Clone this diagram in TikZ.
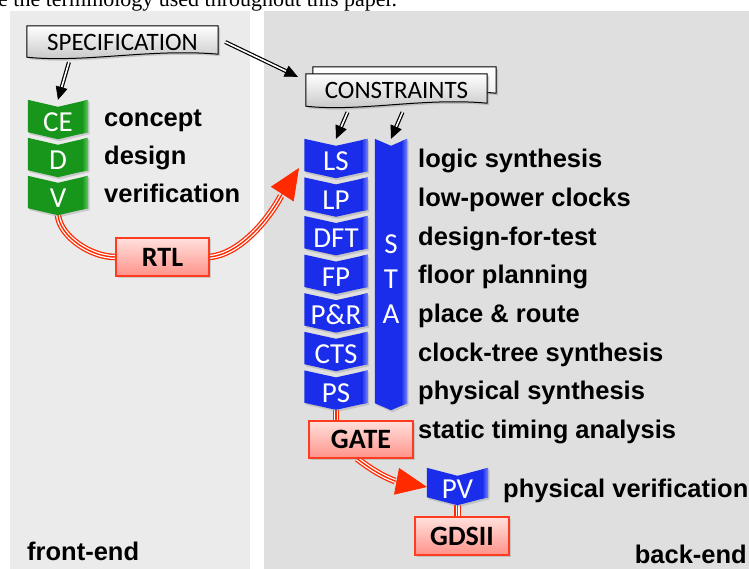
\documentclass[tikz,border=0pt]{standalone}
\usepackage{fontspec}
\setmainfont{Liberation Sans}
\newfontfamily\calibfont{Carlito}
\newfontfamily\bodyserif{Liberation Serif}
\usetikzlibrary{arrows.meta,calc,shadows}

\pgfdeclarelayer{panels}
\pgfdeclarelayer{pipes}
\pgfdeclarelayer{shapes}
\pgfsetlayers{panels,pipes,shapes,main}

\definecolor{panelL}{HTML}{EBEBEB}
\definecolor{panelR}{HTML}{DFDFDF}
\definecolor{chgreen}{HTML}{17961B}
\definecolor{chgreenlt}{HTML}{62CF5E}
\definecolor{chblue}{HTML}{1A2DEB}
\definecolor{chbluelt}{HTML}{7383FF}
\definecolor{flowred}{HTML}{FF2A00}
\definecolor{boxred}{HTML}{FF3B20}
\definecolor{pinktop}{HTML}{FFE0DC}
\definecolor{pinkbot}{HTML}{FF938A}

% chevron body: node, notch depth, base colour, edge colour
\newcommand\chevronshape[4]{%
  \begin{pgfonlayer}{shapes}
    \fill[#3, drop shadow={shadow xshift=1.5pt,shadow yshift=-2pt,opacity=.3}]
      (#1.north west) -- ([yshift=-#2]#1.north) -- (#1.north east)
      -- ([yshift=#2]#1.south east) -- (#1.south) -- ([yshift=#2]#1.south west) -- cycle;
    \begin{scope}
      \clip (#1.north west) -- ([yshift=-#2]#1.north) -- (#1.north east)
        -- ([yshift=#2]#1.south east) -- (#1.south) -- ([yshift=#2]#1.south west) -- cycle;
      \shade[left color=#3, right color=#4] ([xshift=-6pt]#1.north east) rectangle (#1.south east);
    \end{scope}
  \end{pgfonlayer}}

% paper sheet with a wavy lower edge behind a node
\newcommand\docshape[2]{%
  \begin{pgfonlayer}{shapes}
    \path[#2] (#1.north west) -- (#1.north east) -- ([yshift=4pt]#1.south east)
      .. controls ($(#1.south west)!0.65!(#1.south east)+(0pt,10pt)$)
         and ($(#1.south west)!0.3!(#1.south east)+(0pt,-5pt)$) .. ([yshift=1pt]#1.south west) -- cycle;
  \end{pgfonlayer}}

% black double-line arrow between two named points
\newcommand\dblarrow[2]{%
  \draw[preaction={draw=black,line width=4pt}, draw=white, line width=1.6pt]
    (#1) -- ($(#2)!11pt!(#1)$);
  \draw[black, line width=.6pt, -{Triangle[length=13pt,width=12pt]}]
    ($(#2)!12pt!(#1)$) -- (#2);}

\begin{document}
\begin{tikzpicture}[x=1pt, y=-1pt,
  lbl/.style={font=\bfseries\fontsize{25.5}{30}\selectfont, inner sep=0pt},
  doclbl/.style={font=\calibfont\fontsize{25}{30}\selectfont, inner sep=0pt},
  docfront/.style={top color=white, bottom color=black!24, draw=black, line width=1pt,
    drop shadow={shadow xshift=2pt,shadow yshift=-2pt,opacity=.35}},
  docback/.style={top color=white, bottom color=black!8, draw=black, line width=1pt,
    drop shadow={shadow xshift=2pt,shadow yshift=-2pt,opacity=.35}},
  chevtxt/.style={font=\calibfont\fontsize{29}{33}\selectfont, text=white, inner sep=0pt,
    text height=24pt, text depth=0pt},
  pinkbox/.style={rectangle, top color=pinktop, bottom color=pinkbot, draw=boxred,
    line width=1.2pt, inner sep=0pt, font=\calibfont\bfseries\fontsize{28}{32}\selectfont,
    drop shadow={shadow xshift=1.5pt,shadow yshift=-1.5pt,opacity=.3}},
  pipe/.style={preaction={draw=flowred, line width=6.6pt},
    preaction={draw=white, line width=4pt}, draw=flowred, line width=1.4pt},
  redhead/.style={draw=flowred, fill=flowred, line width=.8pt,
    -{Triangle[length=31pt,width=27pt]}}
]
\useasboundingbox (0,0) rectangle (749,569);

% the two stage panels
\begin{pgfonlayer}{panels}
  \fill[panelL] (10,11) rectangle (250,569);
  \fill[panelR] (264,11) rectangle (749,569);
\end{pgfonlayer}

% running text line of the page
\begin{scope}
  \clip (0,0) rectangle (749,569);
  \node[anchor=base west, inner sep=0pt, font=\bodyserif\fontsize{22}{26}\selectfont]
    (pageline) at (-2,7) {e the terminology used throughout this paper.};
\end{scope}

% input documents
\node[doclbl, minimum width=191pt, minimum height=32pt] (spec) at (122.5,42) {SPECIFICATION};
\node[inner sep=0pt, minimum width=183pt, minimum height=30pt] (cons2) at (404.5,82) {};
\node[doclbl, minimum width=181pt, minimum height=33pt] (cons) at (396.5,90.5) {CONSTRAINTS};
\docshape{spec}{docfront}
\docshape{cons2}{docback}
\docshape{cons}{docfront}

% front-end steps
\node[chevtxt, minimum width=60pt, minimum height=39pt] (ce) at (58,119.5) {CE};
\node[chevtxt, minimum width=60pt, minimum height=39pt] (d)  at (58,157.5) {D};
\node[chevtxt, minimum width=60pt, minimum height=39pt] (v)  at (58,195.5) {V};
\foreach \n in {ce,d,v} {\chevronshape{\n}{7pt}{chgreen}{chgreenlt}}

\node[lbl, anchor=base west] (tce) at (104,127) {concept};
\node[lbl, anchor=base west] (td)  at (104,165) {design};
\node[lbl, anchor=base west] (tv)  at (104,203) {verification};

% back-end steps
\foreach \n/\t [count=\i from 0] in {ls/LS, lp/LP, dft/DFT, fp/FP, pr/P\&R, cts/CTS, ps/PS} {
  \node[chevtxt, minimum width=63pt, minimum height=39pt] (\n) at (336,158.5+38.6*\i) {\t};
  \chevronshape{\n}{7pt}{chblue}{chbluelt}
}
\node[inner sep=0pt, minimum width=32pt, minimum height=271pt] (sta) at (391,274.5) {};
\chevronshape{sta}{7pt}{chblue}{chbluelt}
\node[font=\calibfont\fontsize{29}{35}\selectfont, text=white, align=center, inner sep=0pt]
  (stalbl) at (391,279) {S\\T\\A};

\foreach \t [count=\i from 0] in {logic synthesis, low-power clocks, design-for-test,
    floor planning, place \& route, clock-tree synthesis, physical synthesis,
    static timing analysis} {
  \node[lbl, anchor=base west] (tb\i) at (418,168+38.6*\i) {\t};
}

\node[chevtxt, minimum width=61pt, minimum height=37pt] (pv) at (457.5,486.5) {PV};
\chevronshape{pv}{8pt}{chblue}{chbluelt}
\node[lbl, anchor=base west] (tpv) at (503,497) {physical verification};

% design representations
\node[pinkbox, minimum width=93pt, minimum height=38pt] (rtl) at (162.5,257) {RTL};
\node[pinkbox, minimum width=104pt, minimum height=37pt] (gate) at (361,439.5) {GATE};
\node[pinkbox, minimum width=94pt, minimum height=38pt] (gds) at (462,536) {GDSII};

% red flow pipes
\coordinate (rtlhead) at (281,196);
\coordinate (rtltip) at (299,168);
\coordinate (gatehead) at (395,481);
\coordinate (gatetip) at (427,487);
\begin{pgfonlayer}{pipes}
  \draw[pipe] (v.south) .. controls (60,236) and (90,257) .. (rtl.west);
  \draw[pipe] (rtl.east) .. controls (240,254) and (268,220) .. (rtlhead);
  \draw[pipe] (ps.south) -- (ps.south |- gate.north);
  \draw[pipe] ([xshift=-4pt]gate.south) .. controls (372,470) and (382,476) .. (gatehead);
  \draw[pipe] (pv.south) -- (pv.south |- gds.north);
\end{pgfonlayer}
\draw[redhead] (rtlhead) -- (rtltip);
\draw[redhead] (gatehead) -- (gatetip);

% black input arrows
\coordinate (specA) at ($(spec.south west)!0.22!(spec.south east)+(0pt,-4pt)$);
\coordinate (specB) at ($(spec.east)+(7pt,0pt)$);
\coordinate (consin) at ($(cons.north west)+(-8pt,-3pt)$);
\coordinate (consA) at ($(cons.south)+(-49pt,-5pt)$);
\coordinate (consB) at ($(cons.south)+(6pt,-5pt)$);
\dblarrow{specA}{ce.north}
\dblarrow{specB}{consin}
\dblarrow{consA}{ls.north}
\dblarrow{consB}{sta.north}

% stage names
\node[lbl, anchor=base west] (fe) at (27,560) {front-end};
\node[lbl, anchor=base east] (be) at (747,563) {back-end};
\end{tikzpicture}
\end{document}
